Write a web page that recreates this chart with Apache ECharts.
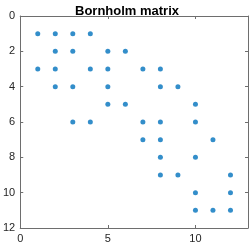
<!DOCTYPE html>
<html><head><meta charset="utf-8">
<script src="https://cdn.jsdelivr.net/npm/echarts@6/dist/echarts.min.js"></script>
<style>html,body{margin:0;padding:0;background:#fff}#c{width:249px;height:244px}</style>
</head><body><div id="c"></div>
<script>
const titleText = 'Bornholm matrix';
const colIdx = [1,2,3,4, 2,3,5,6, 1,2,4,5,7,8, 2,3,5,8,9, 5,6,10, 3,4,7,8,10, 7,8,11, 8,10, 8,9,12, 10,12, 10,11,12];
const rowIdx = [1,1,1,1, 2,2,2,2, 3,3,3,3,3,3, 4,4,4,4,4, 5,5,5, 6,6,6,6,6, 7,7,7, 8,8, 9,9,9, 10,10, 11,11,11];
const xTicks = [0,5,10];
const yTicks = [0,2,4,6,8,10,12];

const pts = colIdx.map((c,i)=>[c,rowIdx[i]]);
const font = 'Liberation Sans, Arial, Helvetica, sans-serif';
const axCol = '#6e6e6e';
const chart = echarts.init(document.getElementById('c'), null, {renderer:'canvas'});
const xBase = (pos, show) => ({
  type:'value', position:pos, min:0, max:13, interval:5,
  axisLine:{show:true, onZero:false, lineStyle:{color:axCol, width:1}},
  axisTick:{show:true, inside:true, length:3, customValues:xTicks, lineStyle:{color:axCol}},
  axisLabel:{show:show, customValues:xTicks, color:'#262626', fontSize:11, fontFamily:font, margin:5},
  splitLine:{show:false}
});
const yBase = (pos, show) => ({
  type:'value', position:pos, min:0, max:12, interval:2, inverse:true,
  axisLine:{show:true, onZero:false, lineStyle:{color:axCol, width:1}},
  axisTick:{show:true, inside:true, length:3, customValues:yTicks, lineStyle:{color:axCol}},
  axisLabel:{show:show, customValues:yTicks, color:'#262626', fontSize:11, fontFamily:font, margin:5},
  splitLine:{show:false}
});
chart.setOption({
  animation:false,
  title:{text:titleText, left:122, top:0, textAlign:'center',
    textStyle:{fontSize:13, fontWeight:'bold', color:'#000', fontFamily:font}},
  grid:{left:18, right:1, top:16, bottom:16, containLabel:false},
  xAxis:[xBase('bottom', true), xBase('top', false)],
  yAxis:[yBase('left', true), yBase('right', false)],
  series:[{type:'scatter', xAxisIndex:0, yAxisIndex:0, data:pts, symbol:'circle', symbolSize:5,
    itemStyle:{color:'#0072BD'}}]
});
</script></body></html>
